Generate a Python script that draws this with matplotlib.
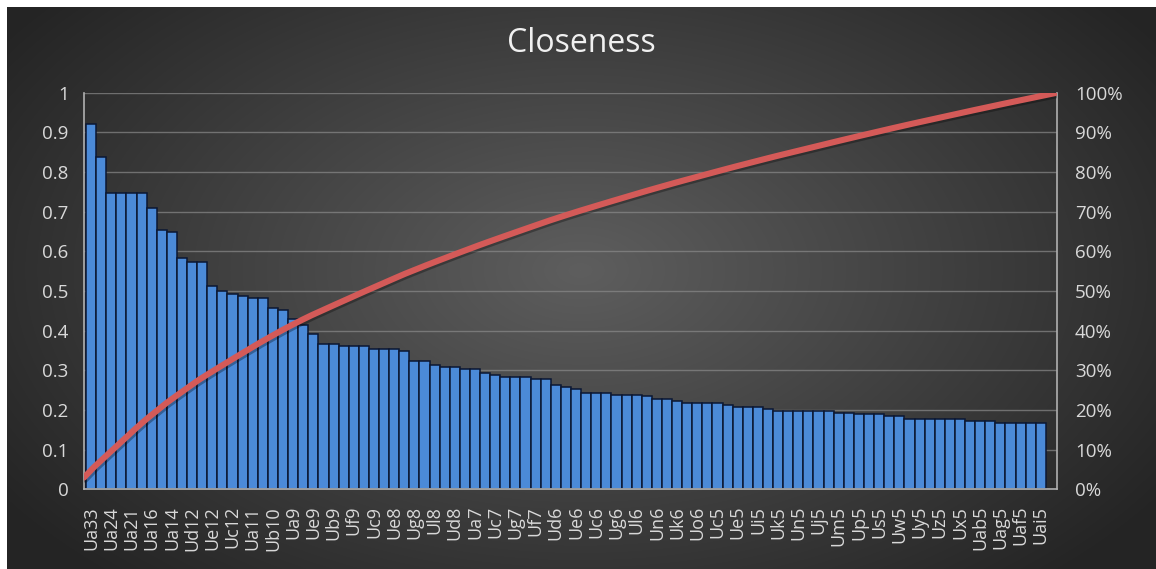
import numpy as np
import matplotlib
matplotlib.use("Agg")
import matplotlib.pyplot as plt
import matplotlib.patheffects as pe
from matplotlib.ticker import PercentFormatter, MultipleLocator

# Closeness values, sorted descending
closeness = [
    0.920, 0.839, 0.748, 0.748, 0.748, 0.748, 0.710, 0.654, 0.650, 0.584,
    0.574, 0.574, 0.513, 0.500, 0.493, 0.488, 0.483, 0.483, 0.458, 0.453,
    0.429, 0.414, 0.392, 0.366, 0.366, 0.362, 0.362, 0.362, 0.354, 0.354,
    0.354, 0.349, 0.324, 0.324, 0.314, 0.308, 0.308, 0.303, 0.303, 0.293,
    0.288, 0.283, 0.283, 0.283, 0.279, 0.279, 0.264, 0.259, 0.254, 0.244,
    0.244, 0.244, 0.239, 0.239, 0.239, 0.234, 0.228, 0.228, 0.223, 0.218,
    0.218, 0.218, 0.217, 0.213, 0.208, 0.208, 0.208, 0.203, 0.197, 0.197,
    0.197, 0.197, 0.197, 0.197, 0.193, 0.193, 0.189, 0.189, 0.189, 0.184,
    0.184, 0.178, 0.178, 0.178, 0.178, 0.178, 0.178, 0.173, 0.173, 0.173,
    0.168, 0.168, 0.168, 0.168, 0.168,
]

# only every second category name is printed on the axis
shown_labels = [
    "Ua33", "Ua24", "Ua21", "Ua16", "Ua14", "Ud12", "Ue12", "Uc12", "Ua11", "Ub10",
    "Ua9", "Ue9", "Ub9", "Uf9", "Uc9", "Ue8", "Ug8", "Ul8", "Ud8", "Ua7",
    "Uc7", "Ug7", "Uf7", "Ud6", "Ue6", "Uc6", "Ug6", "Ul6", "Un6", "Uk6",
    "Uo6", "Uc5", "Ue5", "Ui5", "Uk5", "Un5", "Uj5", "Um5", "Up5", "Us5",
    "Uw5", "Uy5", "Uz5", "Ux5", "Uab5", "Uag5", "Uaf5", "Uai5",
]

y_ticks = [0, 0.1, 0.2, 0.3, 0.4, 0.5, 0.6, 0.7, 0.8, 0.9, 1]

W, H = 1156, 569
FONT = ["Open Sans", "DejaVu Sans"]
TEXT = "#d9d9d9"

fig = plt.figure(figsize=(W / 100, H / 100), dpi=100)
fig.patch.set_facecolor("white")

# dark radial-gradient chart background
bg = fig.add_axes([0, 0, 1, 1], zorder=-10)
bg.set_xlim(0, W)
bg.set_ylim(H, 0)
bg.axis("off")
yy, xx = np.mgrid[0:H, 0:W]
r = np.sqrt(((xx - 580) / 700.0) ** 2 + ((yy - 270) / 420.0) ** 2)
r = np.clip(r, 0, 1)
c0 = np.array([0x5e, 0x5e, 0x5e]) / 255.0
c1 = np.array([0x24, 0x24, 0x24]) / 255.0
img = c0[None, None, :] * (1 - r[..., None]) + c1[None, None, :] * r[..., None]
bg.imshow(img[7:, 7:], extent=(7, W, H, 7), aspect="auto")

left, right = 84 / W, 1057 / W
bottom, top = 1 - 489.3 / H, 1 - 92.7 / H
ax = fig.add_axes([left, bottom, right - left, top - bottom])
ax.patch.set_alpha(0)

x = np.arange(len(closeness))
ax.bar(x, closeness, width=1.0, color="#4b8ad8", edgecolor="#0b1733", linewidth=1.1, zorder=2)
ax.set_xlim(-0.7, 95.6)
ax.set_ylim(0, 1)
ax.set_yticks(y_ticks)
ax.set_yticklabels([f"{v:g}" for v in y_ticks])
ax.grid(True, axis="y", color="#8a8a8a", linewidth=1.0, alpha=0.7, zorder=0)
ax.set_xticks(x[::2])
ax.set_xticklabels(shown_labels, rotation=90)
ax.tick_params(axis="both", length=0, colors=TEXT)
ax.tick_params(axis="y", labelsize=13.5, pad=11)
ax.tick_params(axis="x", labelsize=13, pad=12)
for lab in ax.get_xticklabels() + ax.get_yticklabels():
    lab.set_family(FONT)
for s in ax.spines.values():
    s.set_color("#b0b0b0")
    s.set_linewidth(1.2)
ax.spines["top"].set_visible(False)

# cumulative share on a secondary axis spanning the full plot width
cum_share = np.cumsum(closeness) / np.sum(closeness)
ax2 = fig.add_axes(ax.get_position(), zorder=3)
ax2.patch.set_alpha(0)
ax2.plot(np.arange(len(cum_share)), cum_share, color="#d45a58", linewidth=4.4,
         solid_capstyle="round",
         path_effects=[pe.SimpleLineShadow(offset=(1, -1.5), alpha=0.3), pe.Normal()])
ax2.set_xlim(0, len(cum_share) - 1)
ax2.set_ylim(0, 1)
ax2.yaxis.tick_right()
ax2.yaxis.set_major_locator(MultipleLocator(0.1))
ax2.yaxis.set_major_formatter(PercentFormatter(1.0, decimals=0))
ax2.set_xticks([])
ax2.tick_params(axis="y", length=0, colors=TEXT, labelsize=13.5, pad=13)
for lab in ax2.get_yticklabels():
    lab.set_family(FONT)
for s in ax2.spines.values():
    s.set_visible(False)

fig.text(581 / W, 1 - 43 / H, "Closeness", ha="center", va="center",
         color="#f0f0f0", fontsize=23, family=FONT)

fig.savefig("out.png", dpi=100)
